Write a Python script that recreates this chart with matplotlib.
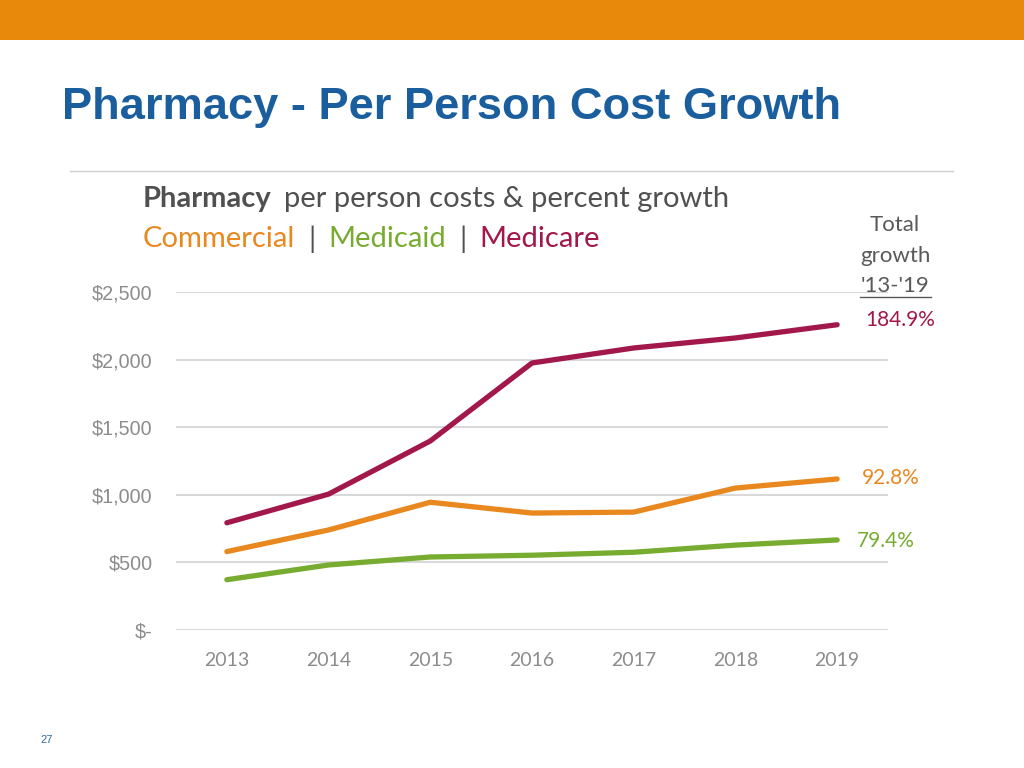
import matplotlib.pyplot as plt
from matplotlib.lines import Line2D
from matplotlib.patches import Rectangle

years = [2013, 2014, 2015, 2016, 2017, 2018, 2019]
commercial = [580, 740, 945, 865, 872, 1050, 1117]
medicaid = [372, 481, 540, 553, 575, 628, 666]
medicare = [793, 1005, 1398, 1975, 2086, 2160, 2258]
growth_labels = ['92.8%', '79.4%', '184.9%']
yticks = [0, 500, 1000, 1500, 2000, 2500]
ytick_labels = ['$-', '$500', '$1,000', '$1,500', '$2,000', '$2,500']

c_com = '#E8881F'
c_mcd = '#78AC30'
c_mcr = '#A3184A'
c_txt = '#505050'

fig = plt.figure(figsize=(10.24, 7.68), dpi=100)

# orange band on top of the slide
fig.add_artist(Rectangle((0, 1 - 40 / 768), 1, 40 / 768, transform=fig.transFigure,
                         color='#E8890C', lw=0))
fig.text(62 / 1024, 1 - 108 / 768, 'Pharmacy - Per Person Cost Growth', fontsize=32.6,
         fontweight='bold', color='#1B5E9E', family='Liberation Sans', va='center')
fig.add_artist(Line2D([70 / 1024, 953 / 1024], [1 - 171 / 768] * 2,
                      transform=fig.transFigure, color='#D0D0D0', lw=1))
fig.text(47 / 1024, 1 - 740 / 768, '27', fontsize=8, color='#2E6DA4',
         family='Liberation Sans', ha='center', va='center')

ax = fig.add_axes([176 / 1024, 1 - 630 / 768, 712 / 1024, 338 / 768])
for y in yticks:
    ax.axhline(y, color='#D9D9D9', lw=1.5, zorder=0)

ax.plot(years, commercial, color=c_com, lw=3.8, solid_capstyle='round', clip_on=False)
ax.plot(years, medicaid, color=c_mcd, lw=3.8, solid_capstyle='round', clip_on=False)
ax.plot(years, medicare, color=c_mcr, lw=3.8, solid_capstyle='round', clip_on=False)

ax.set_xlim(2012.5, 2019.5)
ax.set_ylim(0, 2500)
ax.set_xticks(years)
ax.set_xticklabels([str(y) for y in years], fontsize=14, color='#8C8C8C', family='Lato')
ax.set_yticks(yticks)
ax.set_yticklabels(ytick_labels, fontsize=14.2, color='#8C8C8C', family='Liberation Sans')
ax.tick_params(length=0, axis='x', pad=16)
ax.tick_params(length=0, axis='y', pad=17)
for s in ax.spines.values():
    s.set_visible(False)

# header text, one piece after another
renderer = fig.canvas.get_renderer()


def run_text(x_px, y_px, parts, size):
    x = x_px
    for txt, col, weight, gap in parts:
        t = fig.text(x / 1024, 1 - y_px / 768, txt, fontsize=size, color=col,
                     fontweight=weight, family='Lato', va='center')
        x = x + t.get_window_extent(renderer).width + gap


run_text(143, 199, [('Pharmacy', c_txt, 'bold', 12),
                    ('per person costs & percent growth', c_txt, 'normal', 0)], 21)
run_text(143, 239, [('Commercial', c_com, 'normal', 13),
                    ('|', c_txt, 'normal', 13),
                    ('Medicaid', c_mcd, 'normal', 13),
                    ('|', c_txt, 'normal', 13),
                    ('Medicare', c_mcr, 'normal', 0)], 21)

# total growth column
for txt, py in [('Total', 225), ('growth', 256), ("'13-'19", 286)]:
    fig.text(895 / 1024, 1 - py / 768, txt, fontsize=16, color='#595959',
             family='Lato', ha='center', va='center')
fig.add_artist(Line2D([860 / 1024, 931 / 1024], [1 - 297 / 768] * 2,
                      transform=fig.transFigure, color='#595959', lw=1))

fig.text(865 / 1024, 1 - 320 / 768, growth_labels[2], fontsize=15, color=c_mcr,
         family='Lato', va='center')
fig.text(862 / 1024, 1 - 478 / 768, growth_labels[0], fontsize=15, color=c_com,
         family='Lato', va='center')
fig.text(857 / 1024, 1 - 541 / 768, growth_labels[1], fontsize=15, color=c_mcd,
         family='Lato', va='center')

plt.savefig('out.png', dpi=100)
